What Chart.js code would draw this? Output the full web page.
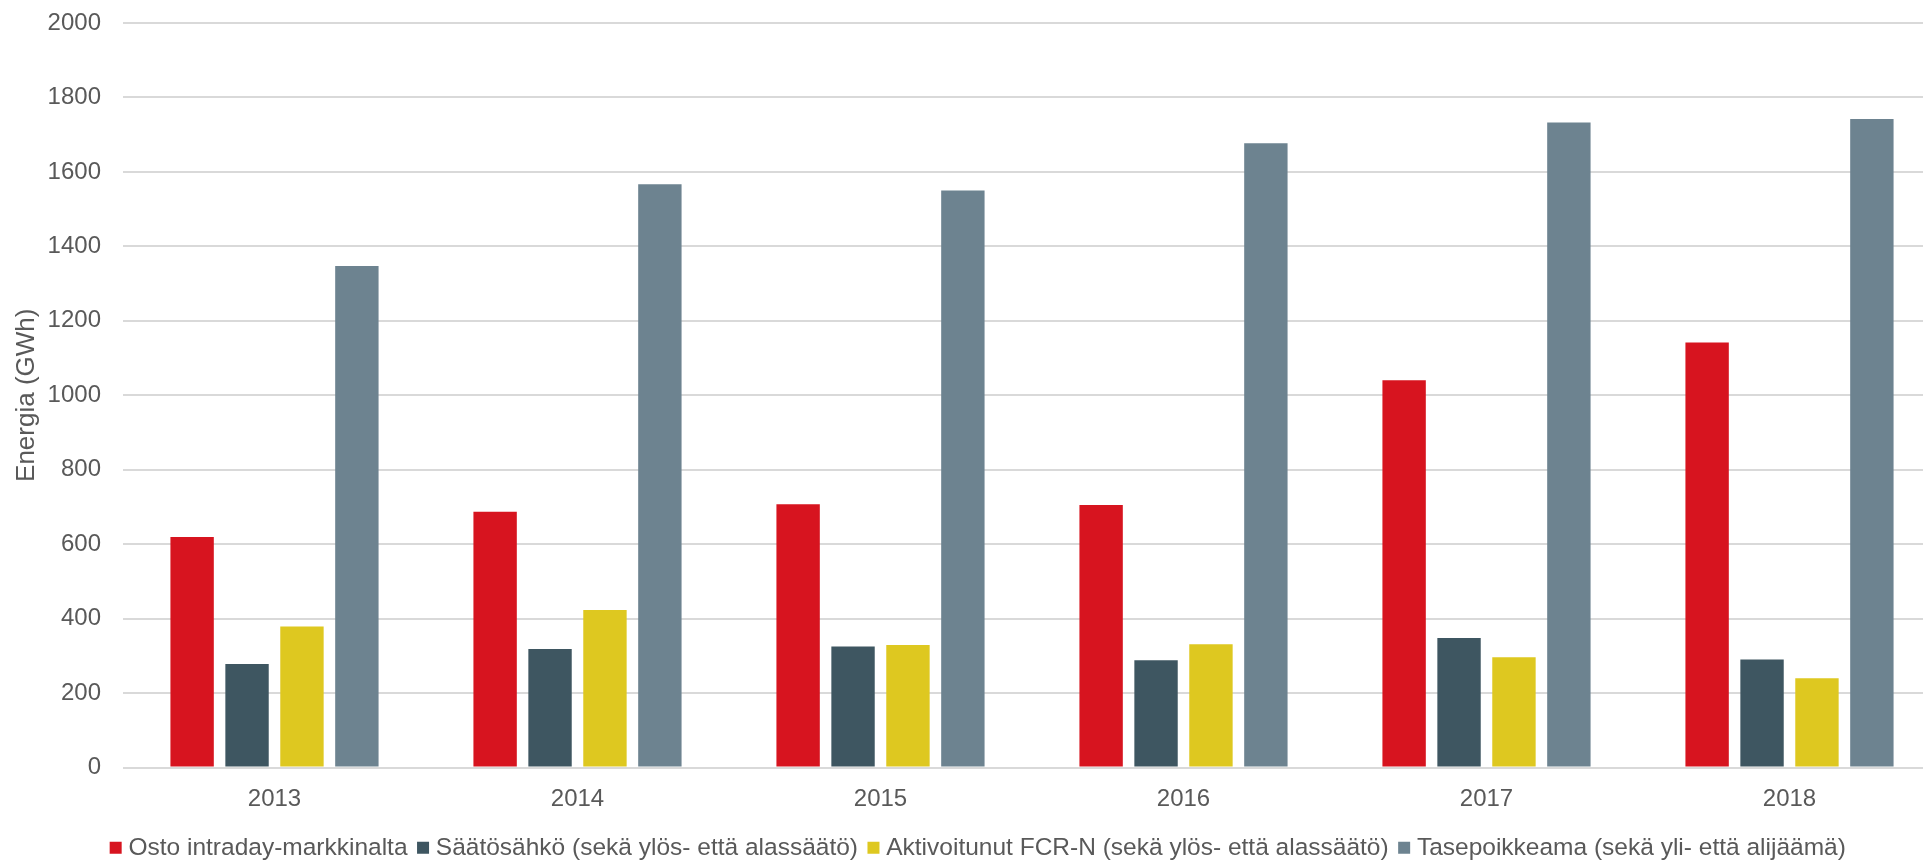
<!DOCTYPE html>
<html lang="fi">
<head>
    <meta charset="UTF-8">
    <title>Energia (GWh)</title>
    <script src="https://cdn.jsdelivr.net/npm/chart.js@4"></script>
    <style>
        html, body {
            margin: 0;
            padding: 0;
            overflow: hidden;
            background: #ffffff;
        }
        /* the original plot runs past the right edge of the picture */
        .chart-container {
            width: 1960px;
            height: 860px;
        }
    </style>
</head>
<body>
    <div class="chart-container">
        <canvas id="energyChart"></canvas>
    </div>

    <script>
        // Data (GWh)
        const years = ['2013', '2014', '2015', '2016', '2017', '2018'];
        const intradayPurchase = [619, 687, 707, 705, 1040, 1142];
        const balancingPower = [278, 318, 325, 288, 348, 290];
        const activatedFcrN = [379, 423, 329, 331, 296, 240];
        const imbalance = [1347, 1567, 1550, 1677, 1733, 1742];

        const seriesNames = [
            'Osto intraday-markkinalta',
            'Säätösähkö (sekä ylös- että alassäätö)',
            'Aktivoitunut FCR-N (sekä ylös- että alassäätö)',
            'Tasepoikkeama (sekä yli- että alijäämä)'
        ];
        const seriesColors = ['#D7141F', '#3E5661', '#DEC820', '#6D8390'];
        const yMin = 0;
        const yMax = 2000;
        const yStep = 200;

        Chart.defaults.font.family = '"Liberation Sans", Arial, sans-serif';
        Chart.defaults.color = '#595959';

        const seriesValues = [intradayPurchase, balancingPower, activatedFcrN, imbalance];

        // nudge the legend a bit to the right, like in the original
        const legendShift = {
            id: 'legendShift',
            afterLayout(chart) {
                chart.legend.left += 10;
                chart.legend.right += 10;
            }
        };

        const ctx = document.getElementById('energyChart').getContext('2d');
        new Chart(ctx, {
            type: 'bar',
            data: {
                labels: years,
                datasets: seriesValues.map((values, i) => ({
                    label: seriesNames[i],
                    data: values,
                    backgroundColor: seriesColors[i],
                    borderWidth: 0,
                    barPercentage: 0.79,
                    categoryPercentage: 0.725
                }))
            },
            options: {
                responsive: true,
                maintainAspectRatio: false,
                animation: false,
                layout: {
                    padding: { top: 23, right: 19, bottom: -10, left: 0 }
                },
                plugins: {
                    tooltip: { enabled: false },
                    legend: {
                        position: 'bottom',
                        labels: {
                            usePointStyle: true,
                            pointStyle: 'rect',
                            boxWidth: 1,
                            boxHeight: 12,
                            padding: 15,
                            font: { size: 24.5 }
                        }
                    }
                },
                scales: {
                    x: {
                        grid: { display: false },
                        border: { display: false },
                        ticks: { padding: 9, font: { size: 24 } },
                        afterFit: scale => { scale.height = 53; }
                    },
                    y: {
                        min: yMin,
                        max: yMax,
                        ticks: {
                            stepSize: yStep,
                            padding: 22,
                            font: { size: 24 },
                            callback: value => String(value)
                        },
                        grid: { color: '#D9D9D9', lineWidth: 2, drawTicks: false },
                        border: { display: false },
                        title: {
                            display: true,
                            text: 'Energia (GWh)',
                            font: { size: 26 },
                            padding: { top: 11, bottom: 0 }
                        },
                        afterFit: scale => {
                            scale.width = 123;
                            // keep the plot top at the 2000 line, not pushed down by label padding
                            scale.paddingTop = 0;
                            scale.paddingBottom = 0;
                        }
                    }
                }
            },
            plugins: [legendShift]
        });
    </script>
</body>
</html>
